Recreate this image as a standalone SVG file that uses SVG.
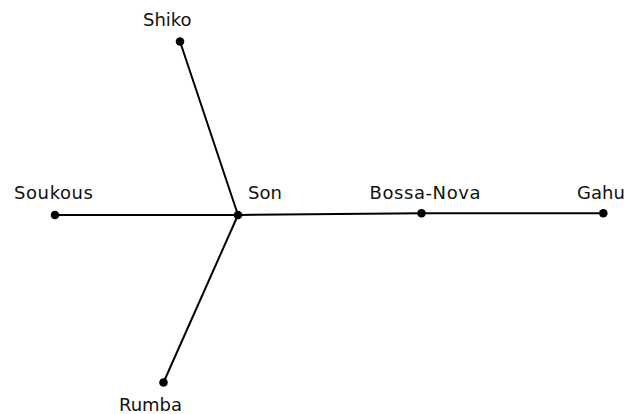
<svg xmlns="http://www.w3.org/2000/svg" width="624" height="414" viewBox="0 0 624 414">
<style>
.e{stroke:#000;stroke-width:2;fill:none;stroke-linecap:round}
.d{fill:#000}
text{font-family:"DejaVu Sans","Liberation Sans",sans-serif;font-size:18px;fill:#111}
</style>
<rect width="624" height="414" fill="#fff"/>
<g id="edges">
<line class="e" x1="238" y1="215" x2="180" y2="41.5"/>
<line class="e" x1="238" y1="215" x2="55" y2="215"/>
<line class="e" x1="238" y1="215" x2="421.5" y2="213.3"/>
<line class="e" x1="421.5" y1="213.3" x2="603.3" y2="213.3"/>
<line class="e" x1="238" y1="215" x2="163.5" y2="382.5"/>
</g>
<g id="Shiko"><circle class="d" cx="180" cy="41.5" r="4.3"/><text x="143" y="25.5">Shiko</text></g>
<g id="Son"><circle class="d" cx="238" cy="215" r="4.3"/><text x="248" y="199">Son</text></g>
<g id="Soukous"><circle class="d" cx="55" cy="215" r="4.3"/><text x="14" y="199" textLength="79">Soukous</text></g>
<g id="Bossa-Nova"><circle class="d" cx="421.5" cy="213.3" r="4.3"/><text x="369.5" y="199" textLength="111">Bossa-Nova</text></g>
<g id="Gahu"><circle class="d" cx="603.3" cy="213.3" r="4.3"/><text x="577" y="199">Gahu</text></g>
<g id="Rumba"><circle class="d" cx="163.5" cy="382.5" r="4.3"/><text x="150.5" y="411" text-anchor="middle">Rumba</text></g>
</svg>
